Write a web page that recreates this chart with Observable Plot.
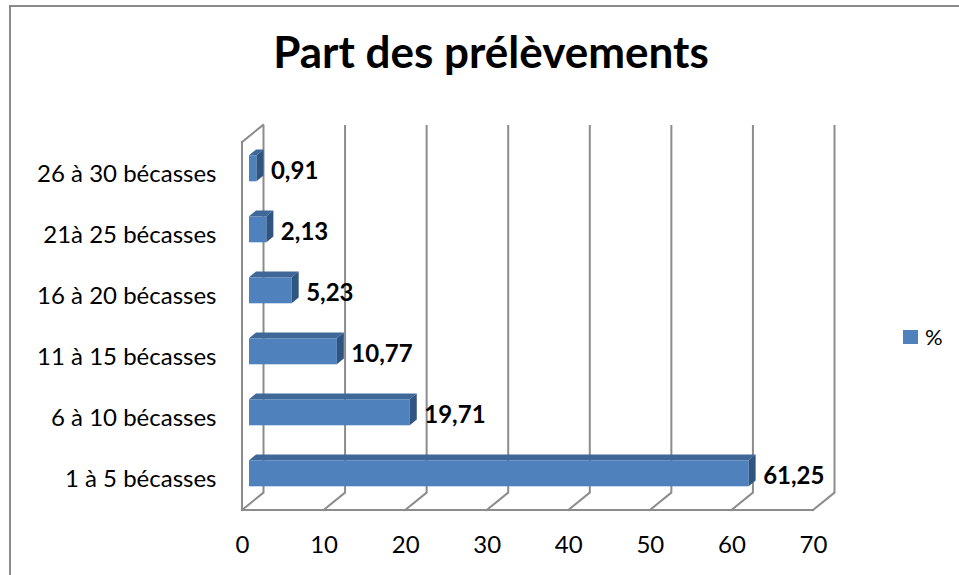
<!DOCTYPE html>
<html>
<head>
<meta charset="utf-8">
<script src="https://cdn.jsdelivr.net/npm/d3@7"></script>
<script src="https://cdn.jsdelivr.net/npm/@observablehq/plot@0.6"></script>
<style>
  html, body { margin: 0; padding: 0; background: #fff; overflow: hidden; }
  #wrap { position: relative; width: 959px; height: 575px; overflow: hidden; font-family: Lato, "Open Sans", sans-serif; }
  #border { position: absolute; left: 9px; top: 5px; width: 1100px; height: 1100px; border: 2px solid #8a8a8a; box-sizing: border-box; }
  #title { position: absolute; left: 0; width: 982px; top: 29px; text-align: center; font-weight: 700; font-size: 44px; line-height: 44px; color: #000; }
  #chart { position: absolute; left: 0; top: 0; }
  #legend { position: absolute; left: 903px; top: 323px; display: flex; align-items: center; font-size: 22px; color: #000; }
  #legend .sw { width: 15px; height: 14px; background: #4f81bd; margin-right: 7px; }
</style>
</head>
<body>
<div id="wrap">
  <div id="border"></div>
  <div id="chart"></div>
  <div id="title"></div>
  <div id="legend"><div class="sw"></div><span id="legendLabel"></span></div>
</div>
<script>
// ---- data ----
const title = "Part des prélèvements";
const seriesName = "%";
const categories = ["1 à 5 bécasses", "6 à 10 bécasses", "11 à 15 bécasses", "16 à 20 bécasses", "21à 25 bécasses", "26 à 30 bécasses"];
const values = [61.25, 19.71, 10.77, 5.23, 2.13, 0.91];
const valueLabels = ["61,25", "19,71", "10,77", "5,23", "2,13", "0,91"];
const xTicks = [0, 10, 20, 30, 40, 50, 60, 70];

// ---- styles ----
const GRID = "#8c8c8c";
const FRONT = "#4f81bd", TOP = "#3f6899", SIDE = "#2f5583";
const DEPTH_X = 21, DEPTH_Y = 17;        // 3D depth of the floor/walls (pixels)
const BAR_DX = 7, BAR_DY = 5.7;           // bar front face offset (one third of depth)
const FONT = "Lato, 'Open Sans', sans-serif";

document.getElementById("title").textContent = title;
document.getElementById("legendLabel").textContent = seriesName;

const rows = categories.map((c, i) => ({category: c, value: values[i], label: valueLabels[i]}));
const ns = "http://www.w3.org/2000/svg";
function line(g, x1, y1, x2, y2) {
  const l = document.createElementNS(ns, "line");
  l.setAttribute("x1", x1); l.setAttribute("y1", y1);
  l.setAttribute("x2", x2); l.setAttribute("y2", y2);
  l.setAttribute("stroke", GRID); l.setAttribute("stroke-width", 2);
  l.setAttribute("stroke-linecap", "square");
  g.appendChild(l);
}
function poly(g, pts, fill) {
  const p = document.createElementNS(ns, "polygon");
  p.setAttribute("points", pts.map(d => d.join(",")).join(" "));
  p.setAttribute("fill", fill);
  g.appendChild(p);
}

const chart = Plot.plot({
  width: 959,
  height: 575,
  marginLeft: 242,
  marginRight: 146,
  marginTop: 142,
  marginBottom: 65,
  style: {fontFamily: FONT, fontSize: "24px", color: "#000", background: "transparent", overflow: "visible"},
  x: {domain: [0, 70], ticks: xTicks, tickSize: 0, tickPadding: 25, tickFormat: d => String(d), label: null},
  y: {domain: categories.slice().reverse(), paddingInner: 0.576, paddingOuter: 0.288, tickSize: 0, tickPadding: 26, label: null},
  marks: [
    // back wall gridlines
    Plot.ruleX(xTicks, {x: d => d, dx: DEPTH_X, dy: -DEPTH_Y, stroke: GRID, strokeWidth: 2}),
    // floor and left wall edges
    Plot.ruleX(xTicks, {
      x: d => d,
      render(index, scales, vals, dims) {
        const g = document.createElementNS(ns, "g");
        const y0 = dims.height - dims.marginBottom, yt = dims.marginTop;
        const xs = Array.from(index, i => vals.x[i]);
        for (const x of xs) line(g, x, y0, x + DEPTH_X, y0 - DEPTH_Y);
        const xmin = Math.min(...xs), xmax = Math.max(...xs);
        line(g, xmin, y0, xmax, y0);
        line(g, xmin, yt, xmin, y0);
        line(g, xmin, yt, xmin + DEPTH_X, yt - DEPTH_Y);
        return g;
      }
    }),
    // 3D bars
    Plot.barX(rows, {
      x: "value", y: "category", fill: FRONT, dx: BAR_DX, dy: -BAR_DY,
      render(index, scales, vals, dims, ctx, next) {
        const g = next(index, scales, vals, dims, ctx);
        const rects = Array.from(g.querySelectorAll("rect"));
        for (const r of rects) {
          const x = +r.getAttribute("x"), y = +r.getAttribute("y");
          const w = +r.getAttribute("width"), h = +r.getAttribute("height");
          poly(r.parentNode, [[x, y], [x + w, y], [x + w + BAR_DX, y - BAR_DY], [x + BAR_DX, y - BAR_DY]], TOP);
          poly(r.parentNode, [[x + w, y], [x + w + BAR_DX, y - BAR_DY], [x + w + BAR_DX, y + h - BAR_DY], [x + w, y + h]], SIDE);
        }
        return g;
      }
    }),
    // value labels
    Plot.text(rows, {x: "value", y: "category", text: "label", textAnchor: "start", dx: 21, dy: -3,
      fontWeight: "bold", fontSize: 24, fill: "#000"})
  ]
});
document.getElementById("chart").appendChild(chart);
</script>
</body>
</html>
